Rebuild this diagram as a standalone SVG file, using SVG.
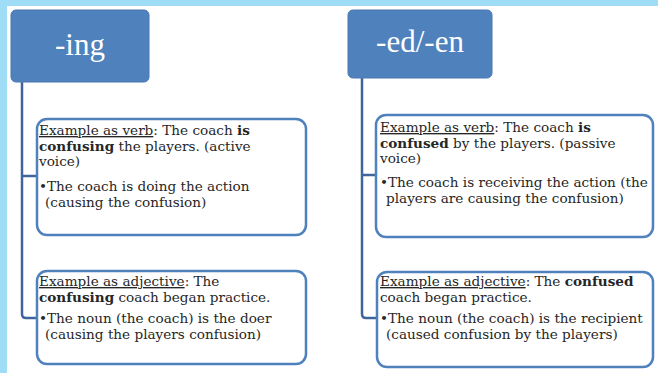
<svg xmlns="http://www.w3.org/2000/svg" width="658" height="373" viewBox="0 0 658 373">
<style>
.bg{fill:#9fdcf6}
.hdr{fill:#4f81bd;stroke:#4a78b2;stroke-width:1}
.htxt{font-family:"Liberation Serif",serif;font-size:31px;fill:#ffffff;text-anchor:middle}
.box{fill:#ffffff;stroke:#4f81bd;stroke-width:2.5}
.t{font-family:"DejaVu Serif",serif;font-size:13.6px;fill:#262626}
.u{text-decoration:underline}
.b{font-weight:bold}
.con{fill:none;stroke:#3f659d;stroke-width:2.5}
</style>
<rect x="0" y="0" width="658" height="373" fill="#ffffff"/>
<rect class="bg" x="0" y="0" width="658" height="6"/>
<rect class="bg" x="0" y="0" width="7" height="373"/>

<g id="connectors">
<path class="con" d="M22,82 V314 Q22,318 26,318 H38 M22,176 H38"/>
<path class="con" d="M362,78 V314 Q362,318 366,318 H378 M362,175 H377"/>
</g>

<g id="header-ing">
<rect class="hdr" x="11" y="10" width="138" height="72" rx="5"/>
<text class="htxt" x="80" y="55">-ing</text>
</g>

<g id="header-ed">
<rect class="hdr" x="348" y="10" width="144" height="68" rx="5"/>
<text class="htxt" x="420" y="52">-ed/-en</text>
</g>

<g id="ing-verb">
<rect class="box" x="37" y="119" width="269" height="116" rx="10"/>
<text class="t" x="39" y="135"><tspan class="u">Example as verb</tspan>: The coach <tspan class="b">is</tspan></text>
<text class="t" x="39" y="151"><tspan class="b">confusing</tspan> the players. (active</text>
<text class="t" x="39" y="166">voice)</text>
<text class="t" x="39" y="191">•The coach is doing the action</text>
<text class="t" x="45" y="207">(causing the confusion)</text>
</g>

<g id="ing-adj">
<rect class="box" x="37" y="271" width="269" height="93" rx="10"/>
<text class="t" x="39" y="286"><tspan class="u">Example as adjective</tspan>: The</text>
<text class="t" x="39" y="302"><tspan class="b">confusing</tspan> coach began practice.</text>
<text class="t" x="39" y="323">•The noun (the coach) is the doer</text>
<text class="t" x="45" y="339">(causing the players confusion)</text>
</g>

<g id="ed-verb">
<rect class="box" x="376" y="115" width="277" height="122" rx="10"/>
<text class="t" x="380" y="132"><tspan class="u">Example as verb</tspan>: The coach <tspan class="b">is</tspan></text>
<text class="t" x="380" y="148"><tspan class="b">confused</tspan> by the players. (passive</text>
<text class="t" x="380" y="163">voice)</text>
<text class="t" x="380" y="187">•The coach is receiving the action (the</text>
<text class="t" x="386" y="203">players are causing the confusion)</text>
</g>

<g id="ed-adj">
<rect class="box" x="377" y="272" width="276" height="95" rx="10"/>
<text class="t" x="380" y="286"><tspan class="u">Example as adjective</tspan>: The <tspan class="b">confused</tspan></text>
<text class="t" x="380" y="302">coach began practice.</text>
<text class="t" x="380" y="323">•The noun (the coach) is the recipient</text>
<text class="t" x="386" y="339">(caused confusion by the players)</text>
</g>
</svg>
